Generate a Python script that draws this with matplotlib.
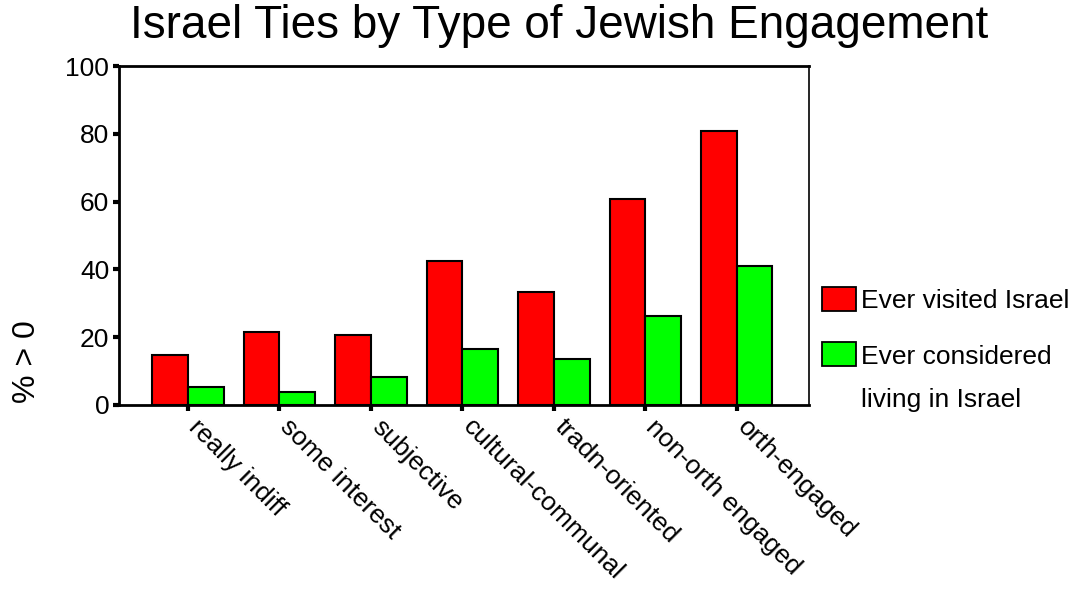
import matplotlib
matplotlib.use("Agg")
import matplotlib.pyplot as plt
import matplotlib.transforms as mtransforms
from matplotlib.patches import Rectangle
import numpy as np

plt.rcParams['font.family'] = ['Liberation Sans', 'DejaVu Sans']

categories = ["really indiff", "some interest", "subjective", "cultural-communal",
              "tradn-oriented", "non-orth engaged", "orth-engaged"]
visited = [14.8, 21.4, 20.7, 42.6, 33.4, 60.9, 80.9]
considered = [5.4, 3.9, 8.3, 16.4, 13.6, 26.2, 40.9]
series_names = ["Ever visited Israel", "Ever considered", "living in Israel"]
series_colors = ["#ff0000", "#00ff00"]
yticks = [0, 20, 40, 60, 80, 100]

W, H = 1078, 592
fig = plt.figure(figsize=(W / 100, H / 100), dpi=100)
ax = fig.add_axes([119 / W, 1 - 405 / H, 690 / W, 339 / H])

x = np.arange(len(categories))
w = 0.39
ax.bar(x - w / 2, visited, w, color=series_colors[0], edgecolor="black", linewidth=1.5)
ax.bar(x + w / 2, considered, w, color=series_colors[1], edgecolor="black", linewidth=1.5)

ax.set_xlim(-0.755, 6.79)
ax.set_ylim(0, 100)
ax.set_yticks(yticks)
ax.set_yticklabels([str(t) for t in yticks], fontsize=19)
ax.set_xticks(x)
ax.set_xticklabels([])
ax.tick_params(axis="both", direction="out", length=4, width=3, color="black")
ax.tick_params(axis="y", pad=3)
for s in ["left", "bottom", "top"]:
    ax.spines[s].set_linewidth(2)
ax.spines["right"].set_linewidth(1.2)

# slanted category labels, hung just right of each tick
offset = mtransforms.ScaledTranslation(13 / 100, -10 / 100, fig.dpi_scale_trans)
for xi, name in zip(x, categories):
    ax.text(xi, 0, name, transform=ax.get_xaxis_transform() + offset,
            rotation=-45, rotation_mode="anchor", ha="left", va="top",
            fontsize=19, clip_on=False)

fig.text(559 / W, 1 - 38 / H, "Israel Ties by Type of Jewish Engagement",
         ha="center", va="baseline", fontsize=33)
fig.text(27 / W, 1 - 362 / H, "% > 0", rotation=90, ha="center", va="center",
         fontsize=23)

# legend drawn in figure pixels
def fig_rect(x0, y0, x1, y1, color):
    fig.patches.append(Rectangle((x0 / W, 1 - y1 / H), (x1 - x0) / W, (y1 - y0) / H,
                                 transform=fig.transFigure, facecolor=color,
                                 edgecolor="black", linewidth=1.3))

fig_rect(822, 287, 856, 311, series_colors[0])
fig_rect(822, 342, 856, 366, series_colors[1])
fig.text(861 / W, 1 - 299 / H, series_names[0], ha="left", va="center_baseline", fontsize=19)
fig.text(861 / W, 1 - 355 / H, series_names[1], ha="left", va="center_baseline", fontsize=19)
fig.text(861 / W, 1 - 397 / H, series_names[2], ha="left", va="center_baseline", fontsize=19)

fig.savefig("out.png", dpi=100)
